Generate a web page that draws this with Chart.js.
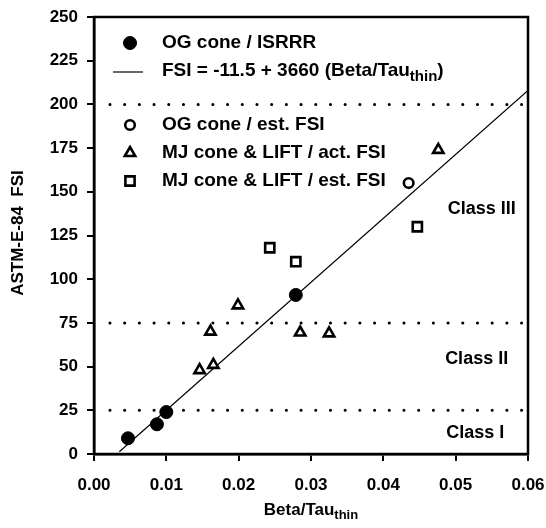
<!DOCTYPE html>
<html>
<head>
<meta charset="utf-8">
<script src="https://cdn.jsdelivr.net/npm/chart.js@4.4.1/dist/chart.umd.min.js"></script>
<style>
  html, body { margin: 0; padding: 0; background: #fff; }
  #fsiChart { display: block; }
</style>
</head>
<body>
<canvas id="fsiChart" width="546" height="528"></canvas>
<script>
// values
const ogIsrrrX = [0.0047, 0.0087, 0.0100, 0.0279];
const ogIsrrrY = [9, 17, 24, 91];

const ogEstX = [0.0435];
const ogEstY = [155];

const mjActX = [0.0146, 0.0161, 0.0165, 0.0199, 0.0285, 0.0325, 0.0476];
const mjActY = [48, 70, 51, 85, 69.5, 69, 174];

const mjEstX = [0.0243, 0.0279, 0.0447];
const mjEstY = [118, 110, 130];

// regression line end points
const fitX = [0.0035, 0.06];
const fitY = [1.3, 208];

// class limits (dotted) and class names
const classLimits = [25, 75, 200];
const limitX = [0.0022, 0.06];
const classNames = ["Class I", "Class II", "Class III"];
const classLabelX = [0.0527, 0.0529, 0.0536];
const classLabelY = [12, 54.5, 140];

const xTicks = [0, 0.01, 0.02, 0.03, 0.04, 0.05, 0.06];
const yTicks = [0, 25, 50, 75, 100, 125, 150, 175, 200, 225, 250];

const FONT = '"Liberation Sans", Arial, sans-serif';

function pts(xs, ys) {
    return xs.map(function (v, i) { return { x: v, y: ys[i] }; });
}

const markerIsrrr = { pointStyle: "circle", radius: 6.5, borderWidth: 1, fill: true };
const markerOgEst = { pointStyle: "circle", radius: 4.8, borderWidth: 2.6, fill: false };
const markerMjAct = { pointStyle: "triangle", radius: 6, borderWidth: 2.6, fill: false };
const markerMjEst = { pointStyle: "rect", radius: 6.5, borderWidth: 2.6, fill: false };

function pointDataset(label, data, m) {
    return {
        label: label,
        data: data,
        showLine: false,
        pointStyle: m.pointStyle,
        pointRadius: m.radius,
        pointBorderWidth: m.borderWidth,
        pointBorderColor: "#000",
        pointBackgroundColor: m.fill ? "#000" : "#fff",
        order: 0
    };
}

const datasets = [
    pointDataset("OG cone / ISRRR", pts(ogIsrrrX, ogIsrrrY), markerIsrrr),
    pointDataset("OG cone / est. FSI", pts(ogEstX, ogEstY), markerOgEst),
    pointDataset("MJ cone & LIFT / act. FSI", pts(mjActX, mjActY), markerMjAct),
    pointDataset("MJ cone & LIFT / est. FSI", pts(mjEstX, mjEstY), markerMjEst),
    {
        label: "fit",
        data: pts(fitX, fitY),
        showLine: true,
        borderColor: "#000",
        borderWidth: 1.2,
        pointRadius: 0,
        order: 1
    }
];

classLimits.forEach(function (lim) {
    datasets.push({
        label: "limit " + lim,
        data: pts(limitX, [lim, lim]),
        showLine: true,
        borderColor: "#000",
        borderWidth: 3,
        borderDash: [0.1, 14.6],
        borderCapStyle: "round",
        pointRadius: 0,
        order: 2
    });
});

function drawSub(ctx, main, sub, tail, x, y, size, align) {
    ctx.font = "bold " + size + "px " + FONT;
    const wMain = ctx.measureText(main).width;
    const wTail = ctx.measureText(tail).width;
    const subSize = Math.round(size * 0.78);
    ctx.font = "bold " + subSize + "px " + FONT;
    const wSub = ctx.measureText(sub).width;
    let start = x;
    if (align === "center") start = x - (wMain + wSub + wTail) / 2;
    ctx.textAlign = "left";
    ctx.textBaseline = "middle";
    ctx.font = "bold " + size + "px " + FONT;
    ctx.fillText(main, start, y);
    ctx.font = "bold " + subSize + "px " + FONT;
    ctx.fillText(sub, start + wMain, y + size * 0.33);
    ctx.font = "bold " + size + "px " + FONT;
    ctx.fillText(tail, start + wMain + wSub, y);
}

function legendMarker(ctx, m, x, y) {
    ctx.fillStyle = m.fill ? "#000" : "#fff";
    ctx.strokeStyle = "#000";
    ctx.lineWidth = m.borderWidth;
    Chart.helpers.drawPoint(ctx, { pointStyle: m.pointStyle, radius: m.radius, borderWidth: m.borderWidth, rotation: 0 }, x, y);
}

const overlay = {
    id: "overlay",
    afterDraw(chart) {
        const ctx = chart.ctx;
        const a = chart.chartArea;
        const xs = chart.scales.x;
        const ys = chart.scales.y;
        ctx.save();

        // frame round the plot
        ctx.strokeStyle = "#000";
        ctx.lineWidth = 2.5;
        ctx.strokeRect(a.left, a.top, a.right - a.left, a.bottom - a.top);

        // class names
        ctx.fillStyle = "#000";
        ctx.font = "bold 18px " + FONT;
        ctx.textAlign = "center";
        ctx.textBaseline = "middle";
        classNames.forEach(function (t, i) {
            ctx.fillText(t, xs.getPixelForValue(classLabelX[i]), ys.getPixelForValue(classLabelY[i]));
        });

        // legend
        const mx = 130, tx = 162;
        legendMarker(ctx, markerIsrrr, mx, 43);
        legendMarker(ctx, markerOgEst, mx, 125);
        legendMarker(ctx, markerMjAct, mx, 153);
        legendMarker(ctx, markerMjEst, mx, 181);
        ctx.strokeStyle = "#000";
        ctx.lineWidth = 1.2;
        ctx.beginPath();
        ctx.moveTo(113, 72);
        ctx.lineTo(143, 72);
        ctx.stroke();

        ctx.fillStyle = "#000";
        ctx.font = "bold 19px " + FONT;
        ctx.textAlign = "left";
        ctx.textBaseline = "middle";
        ctx.fillText("OG cone / ISRRR", tx, 43);
        drawSub(ctx, "FSI = -11.5 + 3660 (Beta/Tau", "thin", ")", tx, 71, 19, "left");
        ctx.font = "bold 19px " + FONT;
        ctx.fillText("OG cone / est. FSI", tx, 125);
        ctx.fillText("MJ cone & LIFT / act. FSI", tx, 153);
        ctx.fillText("MJ cone & LIFT / est. FSI", tx, 181);

        // axis titles
        drawSub(ctx, "Beta/Tau", "thin", "", (a.left + a.right) / 2, 510, 17, "center");
        ctx.translate(18, 233);
        ctx.rotate(-Math.PI / 2);
        ctx.font = "bold 17px " + FONT;
        ctx.textAlign = "center";
        ctx.textBaseline = "middle";
        ctx.fillText("ASTM-E-84  FSI", 0, 0);

        ctx.restore();
    }
};

const config = {
    type: "scatter",
    data: { datasets: datasets },
    options: {
        responsive: false,
        animation: false,
        events: [],
        layout: { padding: { left: 0, right: 18, top: 17, bottom: 0 } },
        plugins: {
            legend: { display: false },
            tooltip: { enabled: false }
        },
        scales: {
            x: {
                type: "linear",
                min: 0,
                max: 0.06,
                afterBuildTicks: function (scale) {
                    scale.ticks = xTicks.map(function (v) { return { value: v }; });
                },
                afterFit: function (scale) {
                    scale.height = 74;
                    scale.paddingLeft = 0;
                    scale.paddingRight = 0;
                },
                border: { display: true, color: "#000", width: 2.5 },
                grid: { drawOnChartArea: false, drawTicks: true, tickLength: 7, color: "#000", lineWidth: 2 },
                ticks: {
                    color: "#000",
                    padding: 14,
                    maxRotation: 0,
                    font: { family: FONT, size: 17, weight: "bold" },
                    callback: function (v) { return Number(v).toFixed(2); }
                }
            },
            y: {
                type: "linear",
                min: 0,
                max: 250,
                afterBuildTicks: function (scale) {
                    scale.ticks = yTicks.map(function (v) { return { value: v }; });
                },
                afterFit: function (scale) {
                    scale.width = 94;
                    scale.paddingTop = 0;
                    scale.paddingBottom = 0;
                },
                border: { display: true, color: "#000", width: 2.5 },
                grid: { drawOnChartArea: false, drawTicks: true, tickLength: 7, color: "#000", lineWidth: 2 },
                ticks: {
                    color: "#000",
                    padding: 9,
                    font: { family: FONT, size: 17, weight: "bold" }
                }
            }
        }
    },
    plugins: [overlay]
};

const fsiChart = new Chart(document.getElementById("fsiChart"), config);
</script>
</body>
</html>
